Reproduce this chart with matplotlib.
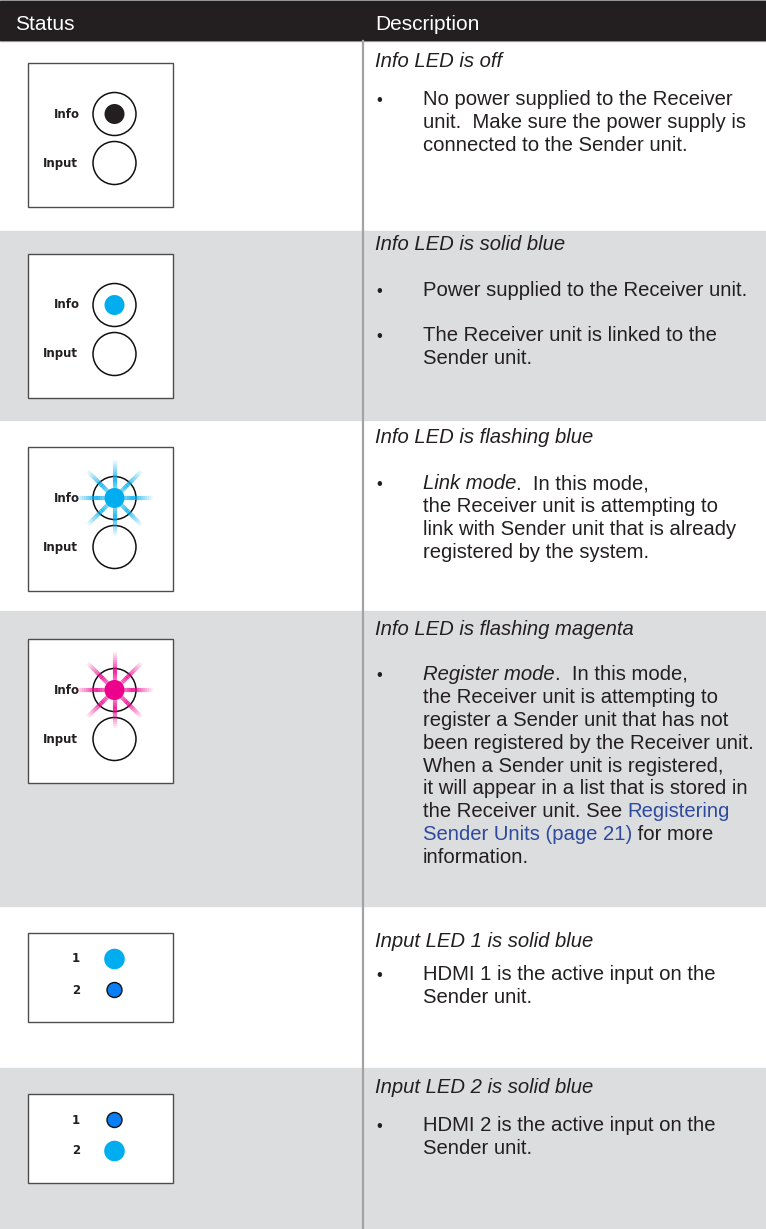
import matplotlib
matplotlib.use("Agg")
import matplotlib.pyplot as plt
from matplotlib.patches import Rectangle, Circle
import numpy as np

W, H = 766, 1229

headers = ["Status", "Description"]
titles = ["Info LED is off", "Info LED is solid blue", "Info LED is flashing blue",
          "Info LED is flashing magenta", "Input LED 1 is solid blue",
          "Input LED 2 is solid blue"]
led_states = ["off", "solid", "flash", "flash", "in1", "in2"]
led_colors = ["#231f20", "#00aeef", "#00aeef", "#ec008c", "#00aeef", "#00aeef"]

# bullets per row -> lines -> pieces (text, style) ; n=normal, i=italic, l=link
bullets = [
    [[[("No power supplied to the Receiver", "n")],
      [("unit.  Make sure the power supply is", "n")],
      [("connected to the Sender unit.", "n")]]],
    [[[("Power supplied to the Receiver unit.", "n")]],
     [[("The Receiver unit is linked to the", "n")],
      [("Sender unit.", "n")]]],
    [[[("Link mode", "i"), (".  In this mode,", "n")],
      [("the Receiver unit is attempting to", "n")],
      [("link with Sender unit that is already", "n")],
      [("registered by the system.", "n")]]],
    [[[("Register mode", "i"), (".  In this mode,", "n")],
      [("the Receiver unit is attempting to", "n")],
      [("register a Sender unit that has not", "n")],
      [("been registered by the Receiver unit.", "n")],
      [("When a Sender unit is registered,", "n")],
      [("it will appear in a list that is stored in", "n")],
      [("the Receiver unit. See ", "n"), ("Registering", "l")],
      [("Sender Units (page 21)", "l"), (" for more", "n")],
      [("information.", "n")]]],
    [[[("HDMI 1 is the active input on the", "n")],
      [("Sender unit.", "n")]]],
    [[[("HDMI 2 is the active input on the", "n")],
      [("Sender unit.", "n")]]],
]

# layout (pixels, text y = baseline)
row_edges = [41, 231, 420, 611, 906, 1068, 1229]
title_y = [67, 250, 443, 635, 947, 1093]
bullet_y = [[105], [296, 341], [489], [680], [980], [1131]]
box_top = [63, 254, 447, 639, 933, 1094]
line_gap = 22.9

TXT = "#231f20"
GRAY = "#dcdddf"
LINK = "#2e4a9e"
FONT = "Liberation Sans"
FS = 14.6

fig = plt.figure(figsize=(W / 100, H / 100), dpi=100)
ax = fig.add_axes([0, 0, 1, 1])
ax.set_xlim(0, W)
ax.set_ylim(H, 0)
ax.axis("off")
renderer = fig.canvas.get_renderer()

# header
ax.add_patch(Rectangle((0, 0), W, 41, color="#b4b4b4", zorder=1))
ax.add_patch(Rectangle((0, 1.2), W, 38.5, color="#231f20", zorder=1))
ax.text(15, 30, headers[0], color="white", fontsize=15, family=FONT, va="baseline")
ax.text(375, 30, headers[1], color="white", fontsize=15, family=FONT, va="baseline")

# row backgrounds
for i in range(len(titles)):
    if i % 2 == 1:
        ax.add_patch(Rectangle((0, row_edges[i]), W, row_edges[i + 1] - row_edges[i],
                               color=GRAY, zorder=0))
ax.plot([363, 363], [41, H], color="#a3a3a3", lw=1.6, zorder=2)


def draw_pieces(x, y, pieces):
    for txt, st in pieces:
        t = ax.text(x, y, txt, fontsize=FS, family=FONT, va="baseline",
                    style="italic" if st == "i" else "normal",
                    color=LINK if st == "l" else TXT)
        bb = t.get_window_extent(renderer=renderer)
        x += bb.width


def draw_rays(cx, cy, color):
    for ang in np.arange(0, 360, 45):
        a = np.deg2rad(ang)
        rs = np.linspace(9, 38, 16)
        for r0, r1 in zip(rs[:-1], rs[1:]):
            rm = (r0 + r1) / 2
            alpha = max(0.0, 1 - abs(rm - 18) / 21) * 0.85
            ax.plot([cx + r0 * np.cos(a), cx + r1 * np.cos(a)],
                    [cy + r0 * np.sin(a), cy + r1 * np.sin(a)],
                    color=color, lw=3.0, alpha=alpha, solid_capstyle="butt", zorder=5)


lab_font = dict(fontsize=8.5, family="DejaVu Sans", weight="bold", color=TXT,
                va="center", ha="right")

for i, state in enumerate(led_states):
    top = box_top[i]
    bh = 144 if state not in ("in1", "in2") else 89
    ax.add_patch(Rectangle((28, top), 145, bh, facecolor="white", edgecolor="#4d4d4d",
                           lw=1.0, zorder=3))
    cx = 114.5
    if state in ("in1", "in2"):
        y1, y2 = top + 26, top + 57
        ax.text(80, y1, "1", **lab_font, zorder=4)
        ax.text(80, y2, "2", **lab_font, zorder=4)
        big, small = (y1, y2) if state == "in1" else (y2, y1)
        ax.add_patch(Circle((cx, big), 10.3, color=led_colors[i], lw=0, zorder=4))
        ax.add_patch(Circle((cx, small), 7.5, facecolor="#0a7ff5", edgecolor="#111111",
                            lw=1.0, zorder=4))
    else:
        yi, yn = top + 51, top + 100
        ax.text(80, yi, "Info", **lab_font, zorder=4)
        ax.text(78, yn, "Input", **lab_font, zorder=4)
        ax.add_patch(Circle((cx, yi), 21.5, facecolor="none", edgecolor="#111111", lw=1.1, zorder=4))
        ax.add_patch(Circle((cx, yn), 21.5, facecolor="none", edgecolor="#111111", lw=1.1, zorder=4))
        if state == "flash":
            draw_rays(cx, yi, led_colors[i])
        ax.add_patch(Circle((cx, yi), 10, color=led_colors[i], lw=0, zorder=6))

    # description
    ax.text(375, title_y[i], titles[i], fontsize=FS, family=FONT, style="italic",
            color=TXT, va="baseline")
    for b, lines in enumerate(bullets[i]):
        y0 = bullet_y[i][b]
        ax.text(376, y0, "\u2022", fontsize=12, family=FONT, color=TXT, va="baseline")
        for k, pieces in enumerate(lines):
            draw_pieces(423, y0 + k * line_gap, pieces)

fig.savefig("out.png", dpi=100)
